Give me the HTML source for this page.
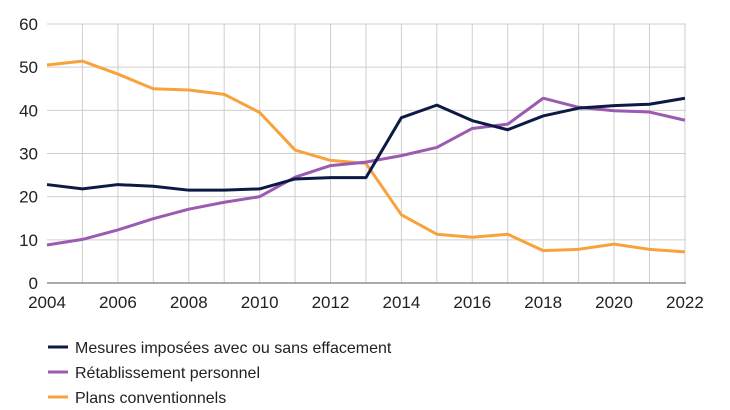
<!DOCTYPE html>
<html><head><meta charset="utf-8"><style>
html,body{margin:0;padding:0;background:#fff;width:730px;height:410px;overflow:hidden}
svg{display:block;font-family:"Liberation Sans",sans-serif}
</style></head><body>
<svg width="730" height="410" viewBox="0 0 730 410" xmlns="http://www.w3.org/2000/svg">
<g id="grid" stroke="#cfcfcf" stroke-width="1"></g>
<line x1="47" y1="283" x2="686" y2="283" stroke="#777" stroke-width="1.2"/>
<g id="ylab" font-size="17" fill="#222" text-anchor="end"></g>
<g id="xlab" font-size="17" fill="#222" text-anchor="middle"></g>
<g id="lines" fill="none" stroke-width="3" stroke-linejoin="round"></g>
<g font-size="16" fill="#222">
<line x1="48" y1="347" x2="68" y2="347" stroke="#0d1a46" stroke-width="3"/>
<text x="75" y="353">Mesures imposées avec ou sans effacement</text>
<line x1="48" y1="372" x2="68" y2="372" stroke="#9b5bb0" stroke-width="3"/>
<text x="75" y="378">Rétablissement personnel</text>
<line x1="48" y1="397" x2="68" y2="397" stroke="#f7a23a" stroke-width="3"/>
<text x="75" y="403">Plans conventionnels</text>
</g>
</svg>
<script>
const ns="http://www.w3.org/2000/svg";
const X=i=>47+i*35.44, Y=v=>283-v*4.317;
const g=document.getElementById('grid'),yl=document.getElementById('ylab'),xl=document.getElementById('xlab'),L=document.getElementById('lines');
function el(p,t,a,txt){const e=document.createElementNS(ns,t);for(const k in a)e.setAttribute(k,a[k]);if(txt!=null)e.textContent=txt;p.appendChild(e);}
for(let v=10;v<=60;v+=10)el(g,'line',{x1:47,x2:686,y1:Y(v),y2:Y(v)});
for(let i=1;i<=18;i++)el(g,'line',{x1:X(i),x2:X(i),y1:Y(60),y2:283});
for(let v=0;v<=60;v+=10)el(yl,'text',{x:38,y:Y(v)+6},v);
for(let i=0;i<=18;i+=2)el(xl,'text',{x:X(i),y:308},2004+i);
const S=[
["#f7a23a",[50.5,51.4,48.4,45.0,44.7,43.7,39.5,30.8,28.4,27.7,15.8,11.3,10.6,11.3,7.5,7.8,9.0,7.8,7.2]],
["#9b5bb0",[8.8,10.1,12.3,14.9,17.1,18.7,20.0,24.5,27.2,28.0,29.5,31.4,35.8,36.8,42.8,40.7,39.9,39.6,37.7]],
["#0d1a46",[22.8,21.8,22.8,22.4,21.5,21.5,21.8,24.1,24.4,24.4,38.3,41.2,37.6,35.5,38.7,40.5,41.1,41.4,42.8]]];
S.forEach(([c,d])=>el(L,'polyline',{stroke:c,points:d.map((v,i)=>X(i)+','+Y(v)).join(' ')}));
</script>
</body></html>
